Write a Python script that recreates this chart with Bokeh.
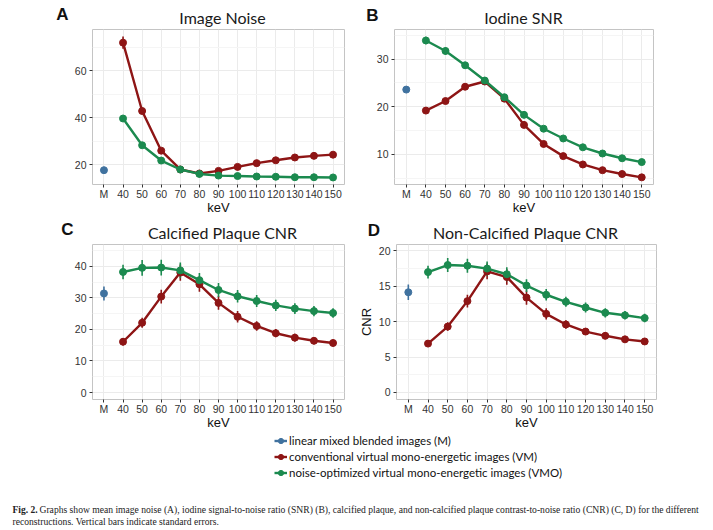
from bokeh.plotting import figure
from bokeh.layouts import column, row
from bokeh.models import Range1d, FixedTicker, Label, Legend, LegendItem
from bokeh.embed import file_html
from bokeh.resources import INLINE

# ---------------- data ----------------
categories = ["M", "40", "50", "60", "70", "80", "90", "100", "110", "120", "130", "140", "150"]

series_names = ["linear mixed blended images (M)",
                "conventional virtual mono-energetic images (VM)",
                "noise-optimized virtual mono-energetic images (VMO)"]

panel_titles = ["Image Noise", "Iodine SNR", "Calcified Plaque CNR", "Non-Calcified Plaque CNR"]
panel_letters = ["A", "B", "C", "D"]

# Panel A: image noise
noise_m = [17.6]
noise_m_se = [0.5]
noise_vm = [71.9, 42.8, 25.9, 17.9, 16.2, 17.3, 19.0, 20.6, 21.8, 23.0, 23.7, 24.2]
noise_vm_se = [2.6, 1.1, 0.7, 0.5, 0.4, 0.4, 0.4, 0.5, 0.5, 0.5, 0.5, 0.5]
noise_vmo = [39.6, 28.2, 21.7, 17.9, 16.0, 15.3, 15.1, 14.9, 14.8, 14.6, 14.6, 14.5]
noise_vmo_se = [0.8, 0.6, 0.5, 0.4, 0.4, 0.3, 0.3, 0.3, 0.3, 0.3, 0.3, 0.3]

# Panel B: iodine SNR
snr_m = [23.6]
snr_m_se = [0.5]
snr_vm = [19.2, 21.2, 24.2, 25.3, 21.7, 16.2, 12.2, 9.65, 7.9, 6.7, 5.9, 5.2]
snr_vm_se = [0.5, 0.5, 0.6, 0.6, 0.6, 0.5, 0.4, 0.3, 0.3, 0.2, 0.2, 0.2]
snr_vmo = [33.9, 31.7, 28.7, 25.5, 22.0, 18.3, 15.4, 13.35, 11.5, 10.2, 9.2, 8.4]
snr_vmo_se = [0.8, 0.8, 0.7, 0.7, 0.6, 0.5, 0.4, 0.4, 0.3, 0.3, 0.3, 0.3]

# Panel C: calcified plaque CNR
ccnr_m = [31.4]
ccnr_m_se = [2.2]
ccnr_vm = [16.1, 22.1, 30.4, 38.0, 34.3, 28.4, 24.0, 21.1, 18.8, 17.4, 16.4, 15.7]
ccnr_vm_se = [1.2, 1.6, 2.2, 2.6, 2.4, 2.2, 1.8, 1.5, 1.3, 1.2, 1.1, 1.0]
ccnr_vmo = [38.2, 39.5, 39.6, 38.7, 35.6, 32.5, 30.5, 29.0, 27.6, 26.6, 25.8, 25.2]
ccnr_vmo_se = [2.3, 2.5, 2.5, 2.5, 2.3, 2.2, 2.0, 1.9, 1.8, 1.7, 1.6, 1.5]

# Panel D: non-calcified plaque CNR
ncnr_m = [14.15]
ncnr_m_se = [1.1]
ncnr_vm = [6.9, 9.3, 12.9, 17.1, 16.3, 13.4, 11.1, 9.6, 8.6, 8.0, 7.5, 7.2]
ncnr_vm_se = [0.4, 0.6, 0.9, 1.1, 1.1, 1.0, 0.8, 0.6, 0.5, 0.5, 0.45, 0.4]
ncnr_vmo = [17.0, 18.0, 17.9, 17.5, 16.7, 15.1, 13.8, 12.8, 12.0, 11.25, 10.9, 10.5]
ncnr_vmo_se = [0.9, 1.0, 1.0, 1.0, 1.0, 0.9, 0.8, 0.7, 0.7, 0.65, 0.6, 0.6]

COL_M = "#40729f"
COL_VM = "#8e1515"
COL_VMO = "#1b8a4f"
colors = [COL_M, COL_VM, COL_VMO]

TICK_FONT = "Liberation Sans"
TITLE_FONT = "Lato"
PANEL_H = 189


def blank(width, height, flip=True):
    f = figure(width=width, height=height, output_backend="svg", toolbar_location=None,
               x_range=Range1d(0, width),
               y_range=Range1d(height, 0) if flip else Range1d(0, height),
               x_axis_type=None, y_axis_type=None,
               min_border_left=0, min_border_right=0, min_border_top=0, min_border_bottom=0)
    f.outline_line_color = None
    f.background_fill_color = "white"
    f.border_fill_color = "white"
    return f


def header(height, entries):
    h = blank(713, height)
    for letter, lxy, title, txy in entries:
        h.add_layout(Label(x=lxy[0], y=lxy[1], text=letter,
                           text_font=TICK_FONT, text_font_style="bold", text_font_size="17px",
                           text_align="center", text_baseline="middle", text_color="#111111"))
        h.add_layout(Label(x=txy[0], y=txy[1], text=title,
                           text_font=TITLE_FONT, text_font_size="16px",
                           text_align="center", text_baseline="middle", text_color="#1a1a1a"))
    return h


def panel(m, m_se, vm, vm_se, vmo, vmo_se, yrange, yticks, yminor,
          width, left, right, ylabel=None):
    p = figure(width=width, height=PANEL_H, output_backend="svg", toolbar_location=None,
               x_range=Range1d(-0.6, len(categories) - 1 + 0.6),
               y_range=Range1d(*yrange),
               min_border_left=left, min_border_right=right,
               min_border_top=1, min_border_bottom=33)
    p.background_fill_color = "white"
    p.border_fill_color = "white"
    p.outline_line_color = "#c4c4c4"
    p.outline_line_width = 1

    xpos = list(range(len(categories)))
    p.xaxis.ticker = FixedTicker(ticks=xpos)
    p.xaxis.major_label_overrides = {i: c for i, c in enumerate(categories)}
    p.xaxis.axis_label = "keV"
    p.yaxis.ticker = FixedTicker(ticks=yticks, minor_ticks=yminor)
    if ylabel:
        p.yaxis.axis_label = ylabel
    for ax in (p.xaxis[0], p.yaxis[0]):
        ax.axis_line_color = None
        ax.major_tick_line_color = "#333333"
        ax.major_tick_out = 3
        ax.major_tick_in = 0
        ax.minor_tick_line_color = None
        ax.major_label_text_font = TICK_FONT
        ax.major_label_text_font_size = "10.5px"
        ax.major_label_text_color = "#333333"
        ax.major_label_standoff = 2
        ax.axis_label_text_font = TICK_FONT
        ax.axis_label_text_font_size = "13px"
        ax.axis_label_text_font_style = "normal"
        ax.axis_label_text_color = "#111111"
    p.xaxis.major_label_standoff = 0
    p.xaxis.axis_label_standoff = -3
    p.yaxis.axis_label_standoff = 2

    p.xgrid.grid_line_color = "#ebebeb"
    p.ygrid.grid_line_color = "#ebebeb"
    p.ygrid.minor_grid_line_color = "#f5f5f5"

    kx = xpos[1:]
    # error bars (mean +/- standard error)
    p.segment(x0=[0], y0=[v - s for v, s in zip(m, m_se)], x1=[0],
              y1=[v + s for v, s in zip(m, m_se)], line_color=COL_M, line_width=1.6)
    p.segment(x0=kx, y0=[v - s for v, s in zip(vm, vm_se)], x1=kx,
              y1=[v + s for v, s in zip(vm, vm_se)], line_color=COL_VM, line_width=1.6)
    p.segment(x0=kx, y0=[v - s for v, s in zip(vmo, vmo_se)], x1=kx,
              y1=[v + s for v, s in zip(vmo, vmo_se)], line_color=COL_VMO, line_width=1.6)
    # lines and points
    p.line(kx, vm, line_color=COL_VM, line_width=2.4)
    p.scatter(kx, vm, size=7, color=COL_VM)
    p.line(kx, vmo, line_color=COL_VMO, line_width=2.4)
    p.scatter(kx, vmo, size=7, color=COL_VMO)
    p.scatter([0], m, size=7, color=COL_M)
    return p


# row 1
H1 = 28
h1 = header(H1, [(panel_letters[0], (62, 14), panel_titles[0], (222, 17)),
                 (panel_letters[1], (372, 14.5), panel_titles[1], (523, 17))])
pA = panel(noise_m, noise_m_se, noise_vm, noise_vm_se, noise_vmo, noise_vmo_se,
           (11.5, 77.5), [20, 40, 60], [30, 50, 70], 355, 92, 11)
pB = panel(snr_m, snr_m_se, snr_vm, snr_vm_se, snr_vmo, snr_vmo_se,
           (3.7, 36.2), [10, 20, 30], [5, 15, 25, 35], 358, 39, 60)

# row 2
H2 = 26
h2 = header(H2, [(panel_letters[2], (67, 11.5), panel_titles[2], (222, 15)),
                 (panel_letters[3], (373.5, 13), panel_titles[3], (525, 15))])
pC = panel(ccnr_m, ccnr_m_se, ccnr_vm, ccnr_vm_se, ccnr_vmo, ccnr_vmo_se,
           (-2.2, 46.9), [0, 10, 20, 30, 40], [5, 15, 25, 35, 45], 355, 92, 11)
pD = panel(ncnr_m, ncnr_m_se, ncnr_vm, ncnr_vm_se, ncnr_vmo, ncnr_vmo_se,
           (-1.0, 20.9), [0, 5, 10, 15, 20], [2.5, 7.5, 12.5, 17.5], 358, 40, 57,
           ylabel="CNR")

# ---------------- legend + caption ----------------
LF_H = 530 - H1 - H2 - 2 * PANEL_H
lf = blank(713, LF_H, flip=False)

items = []
for name, col in zip(series_names, colors):
    r1 = lf.line(x=[-50, -40], y=[-50, -50], line_color=col, line_width=2.4)
    r2 = lf.scatter(x=[-45], y=[-50], color=col, size=6)
    items.append(LegendItem(label=name, renderers=[r1, r2]))
leg = Legend(items=items, location=(274, LF_H - 48), padding=0, margin=0, spacing=1,
             glyph_width=13, glyph_height=15, label_height=15, label_standoff=2,
             label_text_font=TITLE_FONT, label_text_font_size="11.5px",
             label_text_color="#111111",
             border_line_color=None, background_fill_alpha=0)
lf.add_layout(leg)

cap_font = "Liberation Serif"
lf.add_layout(Label(x=12, y=21, x_units="screen", y_units="screen", text="Fig. 2.",
                    text_font=cap_font, text_font_style="bold", text_font_size="9.5px",
                    text_baseline="middle", text_color="#222222"))
lf.add_layout(Label(x=39, y=21, x_units="screen", y_units="screen",
                    text="Graphs show mean image noise (A), iodine signal-to-noise ratio (SNR) (B), "
                         "calcified plaque, and non-calcified plaque contrast-to-noise ratio (CNR) "
                         "(C, D) for the different",
                    text_font=cap_font, text_font_size="9.6px",
                    text_baseline="middle", text_color="#222222"))
lf.add_layout(Label(x=12, y=9, x_units="screen", y_units="screen",
                    text="reconstructions. Vertical bars indicate standard errors.",
                    text_font=cap_font, text_font_size="9.6px",
                    text_baseline="middle", text_color="#222222"))

layout = column(h1, row(pA, pB), h2, row(pC, pD), lf)
open("out.html", "w").write(file_html(layout, INLINE))
